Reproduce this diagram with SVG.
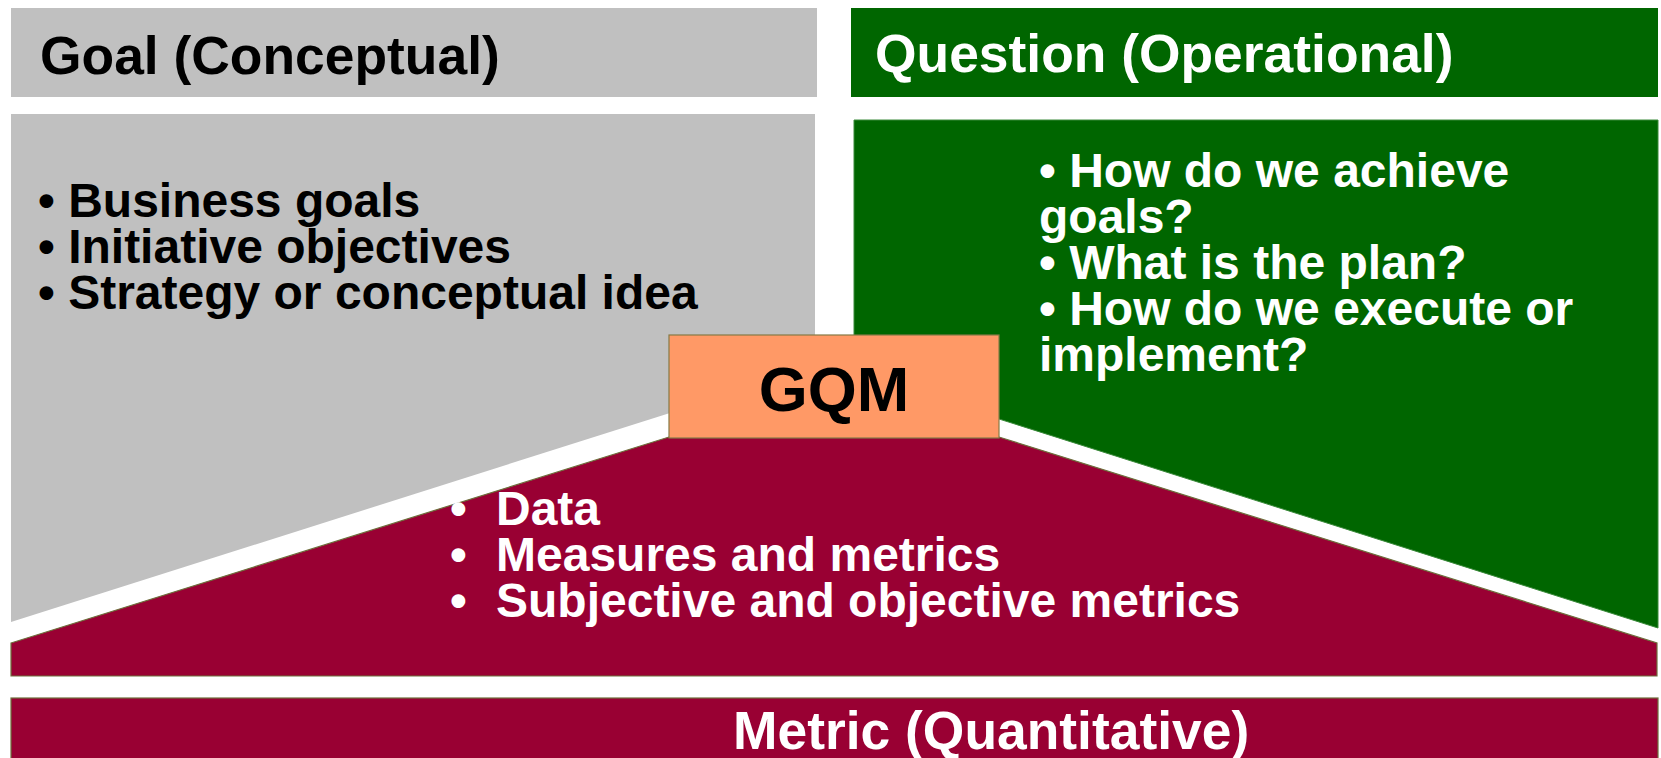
<svg xmlns="http://www.w3.org/2000/svg" width="1661" height="758" viewBox="0 0 1661 758">
<style>
.t{font-family:"Liberation Sans",Arial,sans-serif;font-weight:bold}
.hd{font-size:53.4px}
.bl{font-size:48px}
.blk{fill:#000}
.wht{fill:#fff}
</style>
<rect x="0" y="0" width="1661" height="758" fill="#fff"/>
<g id="goal-header">
<rect x="11" y="8" width="806" height="89" fill="#C0C0C0"/>
<text class="t hd blk" x="40" y="74">Goal (Conceptual)</text>
</g>
<g id="question-header">
<rect x="851" y="8" width="807" height="89" fill="#006600"/>
<text class="t hd wht" x="875" y="72">Question (Operational)</text>
</g>
<g id="goal-body">
<polygon points="11,114 815,114 815,367 11,622" fill="#C0C0C0"/>
<text class="t bl blk"><tspan x="38" y="217">• Business goals</tspan><tspan x="38" y="263">• Initiative objectives</tspan><tspan x="38" y="309">• Strategy or conceptual idea</tspan></text>
</g>
<g id="question-body">
<polygon points="854,120 1658,120 1658,628 854,373" fill="#006600" stroke="#3A8A3A" stroke-width="1"/>
<text class="t bl wht"><tspan x="1039" y="187">• How do we achieve</tspan><tspan x="1039" y="233">goals?</tspan><tspan x="1039" y="279">• What is the plan?</tspan><tspan x="1039" y="325">• How do we execute or</tspan><tspan x="1039" y="371">implement?</tspan></text>
</g>
<g id="metric-body">
<polygon points="11,643 669,437 999,437 1657,643 1657,676 11,676" fill="#990033" stroke="#6E6E3C" stroke-width="1.2"/>
<text class="t bl wht"><tspan x="450" y="525">•</tspan><tspan x="496" y="525">Data</tspan><tspan x="450" y="571">•</tspan><tspan x="496" y="571">Measures and metrics</tspan><tspan x="450" y="617">•</tspan><tspan x="496" y="617">Subjective and objective metrics</tspan></text>
</g>
<g id="gqm">
<rect x="669" y="335" width="330" height="103" fill="#FF9966" stroke="#857A45" stroke-width="1.2"/>
<text class="t blk" x="834" y="411" font-size="63" text-anchor="middle">GQM</text>
</g>
<g id="metric-header">
<rect x="11" y="698" width="1647" height="70" fill="#990033" stroke="#6E6E3C" stroke-width="1.2"/>
<text class="t hd wht" x="733" y="749">Metric (Quantitative)</text>
</g>
<g id="connectors"></g>
</svg>
